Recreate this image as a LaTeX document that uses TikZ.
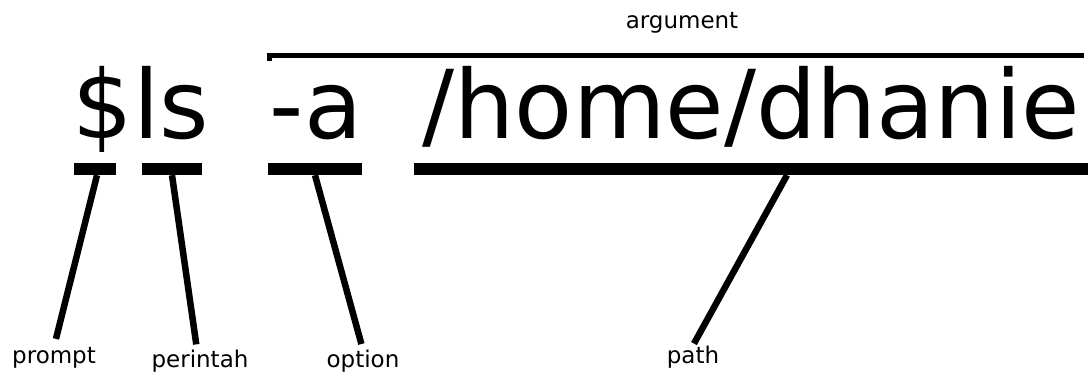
\documentclass[tikz,border=0pt]{standalone}
\usepackage{fontspec}
\setmainfont{DejaVu Sans}
\newfontfamily\cmdfont{DejaVu Sans}
\usepackage{tikz}
\usetikzlibrary{positioning}

\begin{document}
\begin{tikzpicture}[x=1pt, y=-1pt,
  every node/.style={inner sep=0pt},
  big/.style={font=\cmdfont\fontsize{95}{95}\selectfont, anchor=base west},
  tag/.style={font=\fontsize{23}{23}\selectfont, anchor=base},
  bar/.style={fill=black, minimum height=12pt},
  pointer/.style={line width=6.5pt}]
\useasboundingbox (0,0) rectangle (1088,374);
\node[big] (dollar) at (72.5,139) {\$};
\node[big, base right=0pt of dollar] (cmd) {ls};
\node[big, base right=60pt of cmd] (opt) {-a};
\node[big, base right=60pt of opt] (arg) {/home/dhanie};
\node[bar, minimum width=42pt] (bar1) at (95,169) {};
\node[bar, minimum width=60pt] (bar2) at (172,169) {};
\node[bar, minimum width=94pt] (bar3) at (315,169) {};
\node[bar, minimum width=674pt] (bar4) at (751,169) {};
\node[tag] (prompt) at (54,363) {prompt};
\node[tag] (perintah) at (200,367) {perintah};
\node[tag] (option) at (363,367.5) {option};
\node[tag] (path) at (693,363) {path};
\node[tag] (argument) at (682,29) {argument};
\draw[line width=5pt] (269.5,61) -- (269.5,55.5) -- (1084,55.5);
\draw[pointer, shorten >=8pt] ([xshift=2pt]bar1.south) -- (prompt.north);
\draw[pointer, shorten >=5pt] (bar2.south) -- ([xshift=-3pt]perintah.north);
\draw[pointer, shorten >=6pt] (bar3.south) -- (option.north);
\draw[pointer, shorten >=2pt] ([xshift=36pt]bar4.south) -- (path.north);
\end{tikzpicture}
\end{document}
